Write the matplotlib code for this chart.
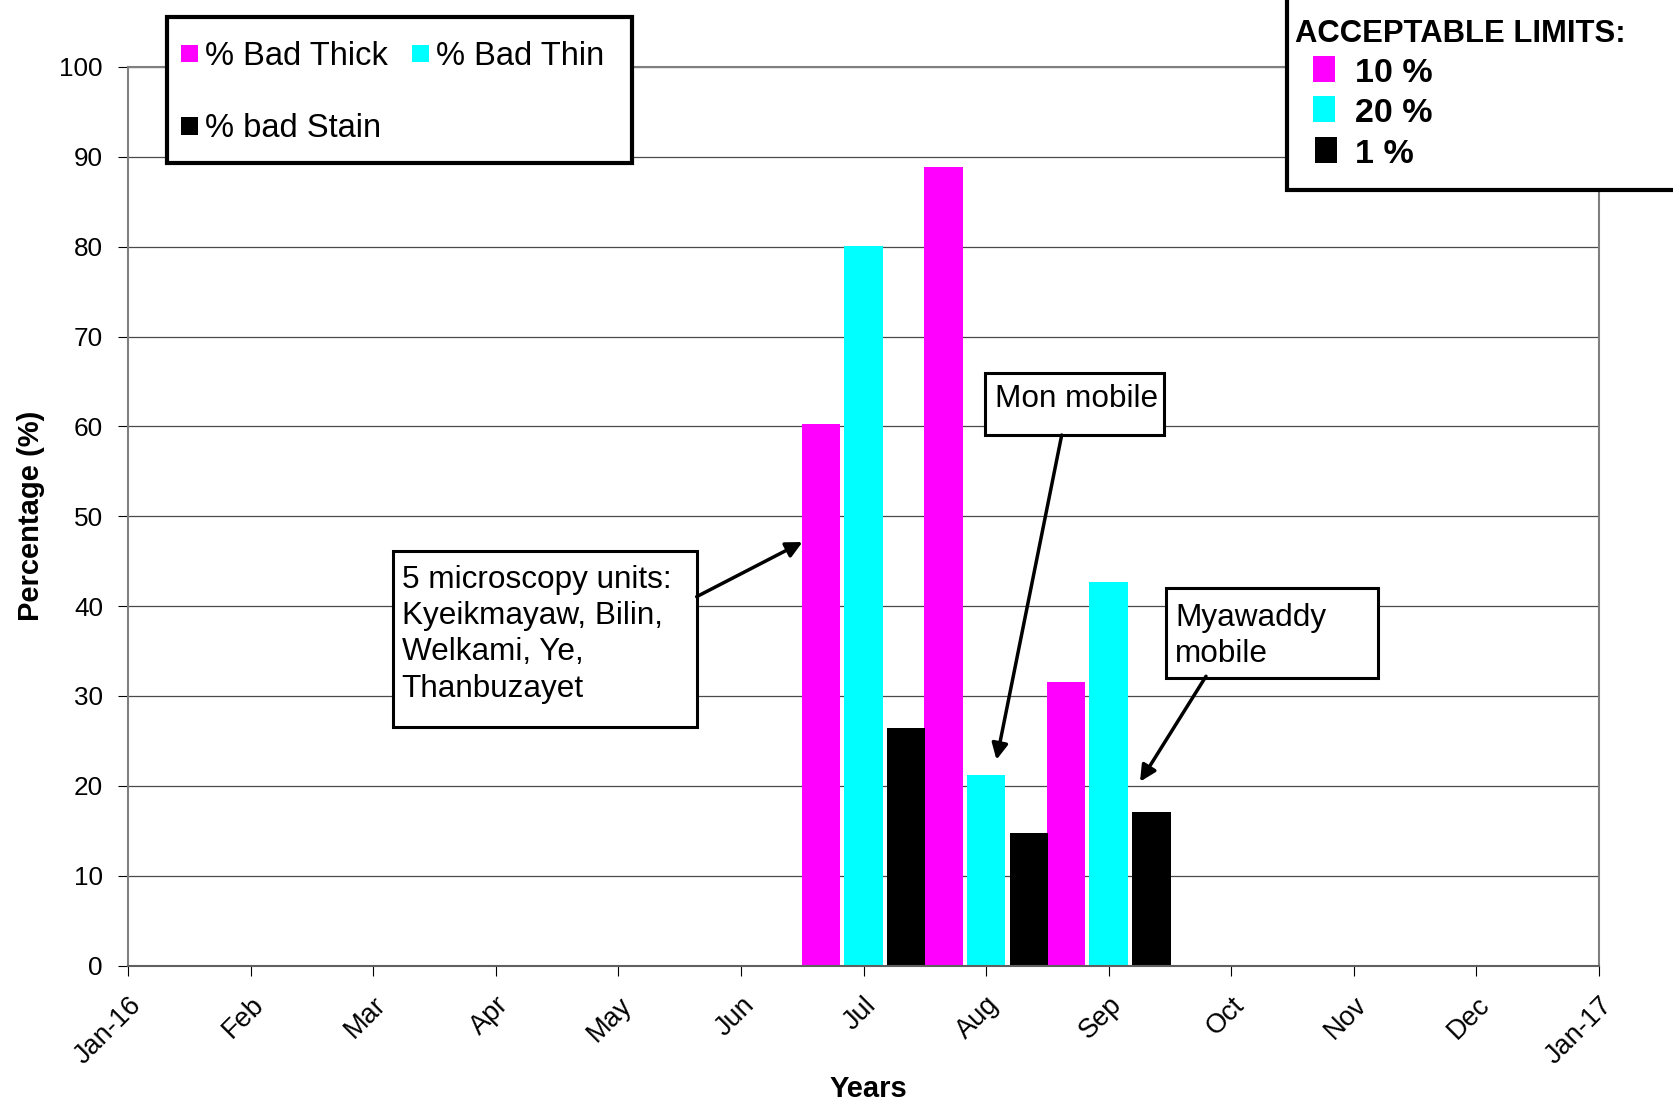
import matplotlib
matplotlib.use("Agg")
import matplotlib.pyplot as plt
from matplotlib.patches import Rectangle
from matplotlib.transforms import ScaledTranslation

plt.rcParams["font.family"] = ["Liberation Sans", "DejaVu Sans"]

MONTH_TICKS = ["Jan-16", "Feb", "Mar", "Apr", "May", "Jun", "Jul",
               "Aug", "Sep", "Oct", "Nov", "Dec", "Jan-17"]
MONTHS = ["Jul", "Aug", "Sep"]
BAD_THICK = [60.3, 88.9, 31.5]
BAD_THIN = [80.1, 21.2, 42.7]
BAD_STAIN = [26.4, 14.7, 17.1]
SERIES_NAMES = ["% Bad Thick", "% Bad Thin", "% bad Stain"]
SERIES_COLORS = ["#ff00ff", "#00ffff", "#000000"]
LIMIT_LABELS = ["10 %", "20 %", "1 %"]
Y_TICKS = list(range(0, 101, 10))

W, H = 1673, 1104


def fx(px):
    return px / W


def fy(py):
    return 1 - py / H


fig = plt.figure(figsize=(W / 100, H / 100), dpi=100)
ax = fig.add_axes([fx(128), fy(965.5), fx(1599) - fx(128), fy(67) - fy(965.5)])

# bars: three series grouped around each month tick
positions = [MONTH_TICKS.index(m) for m in MONTHS]
offset, width = 0.348, 0.313
bars = []
for k, (values, color) in enumerate(zip([BAD_THICK, BAD_THIN, BAD_STAIN], SERIES_COLORS)):
    bars.append(ax.bar([p + (k - 1) * offset for p in positions], values, width,
                       color=color, zorder=2))

ax.set_xlim(0, len(MONTH_TICKS) - 1)
ax.set_ylim(0, 100)
ax.set_xticks(range(len(MONTH_TICKS)))
ax.set_xticklabels(MONTH_TICKS, rotation=45, ha="right", va="top",
                   rotation_mode="anchor", fontsize=19.5)
for label in ax.get_xticklabels():
    label.set_transform(label.get_transform() + ScaledTranslation(0.03, 0, fig.dpi_scale_trans))
ax.set_yticks(Y_TICKS)
ax.tick_params(axis="y", labelsize=18.8, pad=11, length=7, width=0.8)
ax.tick_params(axis="x", pad=12, length=7, width=0.8)
ax.yaxis.grid(True, color="#4a4a4a", lw=0.9)
ax.set_axisbelow(True)
for side in ["left", "right", "top", "bottom"]:
    ax.spines[side].set_color("#808080")
    ax.spines[side].set_linewidth(1.5)
ax.spines["bottom"].set_color("#606060")

ax.set_ylabel("Percentage (%)", fontsize=21, fontweight="bold")
ax.yaxis.set_label_coords(-0.0564, 0.5)
ax.set_xlabel("Years", fontsize=21, fontweight="bold")
ax.xaxis.set_label_coords(0.503, -0.1219)

# callout boxes with arrows (text y is the baseline of the last line)
notes = [
    ("5 microscopy units:\nKyeikmayaw, Bilin,\nWelkami, Ye,\nThanbuzayet",
     (2.162, 26.54, 2.480, 19.59), (2.233, 29.92), (4.639, 41.05), (5.502, 47.13)),
    ("Mon mobile", (6.991, 59.04, 1.461, 6.94), (7.073, 62.19), (7.617, 59.04), (7.085, 22.9)),
    ("Myawaddy\nmobile", (8.468, 31.96, 1.732, 10.02), (8.541, 33.81), (8.794, 32.19), (8.256, 20.46)),
]
for text, (bx, by, bw, bh), (tx, ty), start, end in notes:
    ax.add_patch(Rectangle((bx, by), bw, bh, facecolor="white", edgecolor="black",
                           lw=2.2, zorder=5))
    ax.text(tx, ty, text, fontsize=22.7, va="baseline", ha="left",
            linespacing=1.27, zorder=6)
    ax.annotate("", xy=end, xytext=start, zorder=6,
                arrowprops=dict(arrowstyle="-|>", color="black", lw=2.5,
                                mutation_scale=24, shrinkA=0, shrinkB=0))

# series legend, two columns: Thick / Thin on top row, Stain below.
# The frame is drawn separately so it can be wider than the entries.
fig.add_artist(Rectangle((fx(167.3), fy(163.3)), fx(632.3) - fx(167.3), (163.3 - 16.7) / H,
                         transform=fig.transFigure, facecolor="white",
                         edgecolor="black", lw=3, zorder=4.8))
leg = fig.legend([bars[0], bars[2], bars[1]],
                 [SERIES_NAMES[0], SERIES_NAMES[2], SERIES_NAMES[1]],
                 loc="upper left", bbox_to_anchor=(fx(181.4), fy(41.0)), ncol=2,
                 fontsize=23.5, frameon=False, handlelength=0.52, handleheight=0.45,
                 handletextpad=0.21, columnspacing=0.74, labelspacing=1.27,
                 borderpad=0, borderaxespad=0)
leg.set_zorder(5)

# acceptable limits box (runs off the top-right corner)
fig.add_artist(Rectangle((fx(1287), fy(190)), 1, 1, transform=fig.transFigure,
                         facecolor="white", edgecolor="black", lw=3, zorder=5))
fig.text(fx(1295), fy(41.7), "ACCEPTABLE LIMITS:", fontsize=22.3,
         fontweight="bold", va="baseline", ha="left", zorder=6)
for i, (label, color) in enumerate(zip(LIMIT_LABELS, SERIES_COLORS)):
    base = 81.7 + 40.5 * i
    fig.add_artist(Rectangle((fx(1313 + (2 if i == 2 else 0)), fy(base)), fx(22), 26 / H,
                             transform=fig.transFigure, facecolor=color,
                             edgecolor="none", zorder=6))
    fig.text(fx(1355), fy(base), label, fontsize=24.5, fontweight="bold",
             va="baseline", ha="left", zorder=6)

fig.savefig("out.png", dpi=100)
